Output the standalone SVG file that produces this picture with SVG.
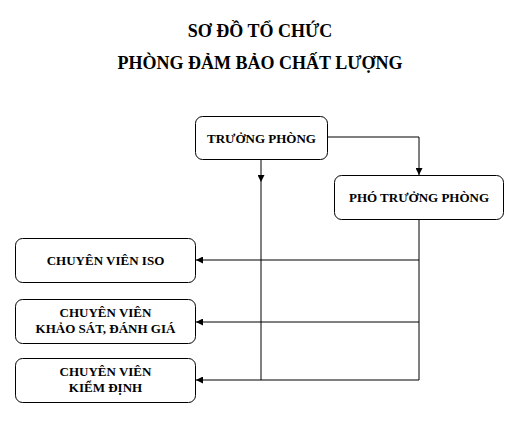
<svg xmlns="http://www.w3.org/2000/svg" width="522" height="428" viewBox="0 0 522 428">
<style>
.box{fill:#fff;stroke:#000;stroke-width:1}
.t{font-family:"Liberation Serif","Times New Roman",serif;font-weight:bold;font-size:13px;text-anchor:middle;fill:#000}
.h{font-family:"Liberation Serif","Times New Roman",serif;font-weight:bold;font-size:18px;text-anchor:middle;fill:#000}
.c{fill:none;stroke:#000;stroke-width:1}
</style>
<defs>
<marker id="a" viewBox="0 0 10 10" refX="10" refY="5" markerWidth="7" markerHeight="7" markerUnits="userSpaceOnUse" orient="auto">
<path d="M0,0 L10,5 L0,10 Z" fill="#000"/>
</marker>
</defs>
<rect width="522" height="428" fill="#fff"/>
<g id="title">
<text class="h" x="260" y="37">SƠ ĐỒ TỔ CHỨC</text>
<text class="h" x="260" y="69">PHÒNG ĐẢM BẢO CHẤT LƯỢNG</text>
</g>
<g id="connectors">
<path class="c" d="M327,137 H419 V175" marker-end="url(#a)"/>
<path class="c" d="M261,159 V182" marker-end="url(#a)"/>
<path class="c" d="M261,182 V380"/>
<path class="c" d="M419,219 V380"/>
<path class="c" d="M419,260 H196" marker-end="url(#a)"/>
<path class="c" d="M419,322 H196" marker-end="url(#a)"/>
<path class="c" d="M419,380 H196" marker-end="url(#a)"/>
</g>
<g id="truong-phong">
<rect class="box" x="195.5" y="116.5" width="132" height="43" rx="7"/>
<text class="t" x="261.5" y="142.5">TRƯỞNG PHÒNG</text>
</g>
<g id="pho-truong-phong">
<rect class="box" x="334.5" y="175.5" width="169" height="44" rx="7"/>
<text class="t" x="419" y="201.5">PHÓ TRƯỞNG PHÒNG</text>
</g>
<g id="chuyen-vien-iso">
<rect class="box" x="15.5" y="238.5" width="180" height="44" rx="7"/>
<text class="t" x="105.5" y="264.5">CHUYÊN VIÊN ISO</text>
</g>
<g id="chuyen-vien-khao-sat">
<rect class="box" x="15.5" y="299.5" width="180" height="44" rx="7"/>
<text class="t" x="105.5" y="317">CHUYÊN VIÊN</text>
<text class="t" x="105.5" y="333">KHẢO SÁT, ĐÁNH GIÁ</text>
</g>
<g id="chuyen-vien-kiem-dinh">
<rect class="box" x="15.5" y="358.5" width="180" height="44" rx="7"/>
<text class="t" x="105.5" y="376">CHUYÊN VIÊN</text>
<text class="t" x="105.5" y="392">KIỂM ĐỊNH</text>
</g>
</svg>
